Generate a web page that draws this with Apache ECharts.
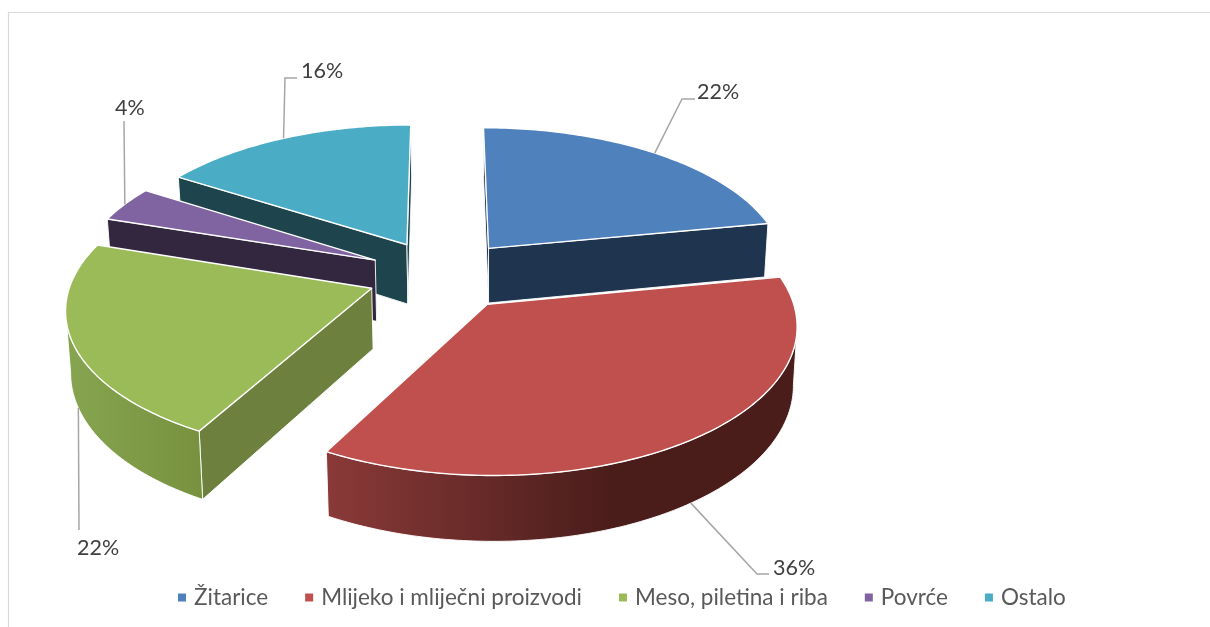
<!DOCTYPE html>
<html><head><meta charset="utf-8">
<style>html,body{margin:0;padding:0;background:#fff}#c{width:1210px;height:627px}</style>
<script src="https://cdn.jsdelivr.net/npm/echarts@6/dist/echarts.min.js"></script>
</head><body><div id="c"></div>
<script>
const categories = ['Žitarice','Mlijeko i mliječni proizvodi','Meso, piletina i riba','Povrće','Ostalo'];
const shares = [22,36,22,4,16];
const topColors = ['#4f81bd','#c0504d','#9bbb59','#8064a2','#4bacc6'];
const wallColors = ['#1f344f','#5a2321','#6e803d','#33263f','#1e454e'];
const rimLeft = ['#1f344f','#8a3a38','#87a551','#4d3c62','#1e454e'];
const rimRight = ['#1f344f','#4a1d1b','#77913f','#33263f','#1e454e'];
const wallDepths = [56,56,60,62,61];
// paint order back to front
const paintOrder = [4,3,0,2,1];
// 3D view parameters
const view = {cx:442, cy:275, R:299, k:141.8, p:0.1245, explode:0.25, vanishX:489, tilt:0.012};
// leader-line elbows and label anchors (layout only)
const leaders = [
  {pts:[[682,99],[695,99]], text:[697,92], front:false},
  {pts:[[757,574],[769,574]], text:[773,568], front:true},
  {pts:[[79,530]], text:[77,548], front:true},
  {pts:[[124,121]], text:[115,108], front:false},
  {pts:[[285,78],[297,78]], text:[301,71], front:false}
];
const total = shares.reduce((a,b)=>a+b,0);
const project = (X,Z,depth) => {
  const s = 1/(1 - view.p*Z);
  const x = view.cx + view.R*X*s, y = view.cy + view.k*Z*s;
  return depth ? [x + (view.vanishX-x)*view.tilt, y + depth*s] : [x,y];
};
function sliceAngles(i){
  let a = 0;
  for(let j=0;j<i;j++) a += shares[j]/total*2*Math.PI;
  return [a, a + shares[i]/total*2*Math.PI];
}
function renderSlice(i){
  const [a0,a1] = sliceAngles(i);
  const mid=(a0+a1)/2, ox=view.explode*Math.sin(mid), oz=-view.explode*Math.cos(mid);
  const pt=(t,r,down)=>project(ox+r*Math.sin(t), oz-r*Math.cos(t), down?wallDepths[i]:0);
  const n=Math.max(8,Math.round((a1-a0)*60));
  const rimT=[]; for(let j=0;j<=n;j++) rimT.push(a0+(a1-a0)*j/n);
  const children=[];
  const quad=(t1,r1,t2,r2,fill)=>{
    children.push({type:'polygon',shape:{points:[pt(t1,r1,false),pt(t2,r2,false),pt(t2,r2,true),pt(t1,r1,true)]},
      style:{fill,stroke:'rgba(255,255,255,0.9)',lineWidth:1,lineJoin:'round'}});
  };
  if(pt(a0,1)[0]<pt(a0,0)[0]) quad(a0,0,a0,1,wallColors[i]);
  if(pt(a1,0)[0]<pt(a1,1)[0]) quad(a1,1,a1,0,wallColors[i]);
  // curved rim: only the stretch whose screen x decreases along the sweep
  const vis=rimT.filter((t,j)=>{
    const nx=j<n?rimT[j+1]:t, pv=j>0?rimT[j-1]:t;
    return pt(nx,1)[0]<pt(t,1)[0] || pt(t,1)[0]<pt(pv,1)[0];
  });
  if(vis.length>1){
    const up=vis.map(t=>pt(t,1,false)), dn=vis.map(t=>pt(t,1,true)).reverse();
    children.push({type:'polygon',shape:{points:up.concat(dn)},
      style:{fill:new echarts.graphic.LinearGradient(0,0,1,0,[
        {offset:0,color:rimLeft[i]},
        {offset:i===1?0.6:1,color:rimRight[i]},
        {offset:1,color:rimRight[i]}]),
        stroke:'rgba(255,255,255,0.9)',lineWidth:1}});
  }
  const top=[pt(a0,0)].concat(rimT.map(t=>pt(t,1)));
  children.push({type:'polygon',shape:{points:top},
    style:{fill:topColors[i],stroke:'#ffffff',lineWidth:1.4,lineJoin:'round'}});
  const L=leaders[i];
  const line=[pt(mid,1,L.front)].concat(L.pts);
  children.push({type:'polyline',shape:{points:line},style:{fill:null,stroke:'#a6a6a6',lineWidth:1.5}});
  children.push({type:'text',x:L.text[0],y:L.text[1],style:{text:shares[i]+'%',fill:'#404040',
    font:'21.5px Lato',textAlign:'left',textVerticalAlign:'middle'}});
  return {type:'group',children};
}
const chart=echarts.init(document.getElementById('c'),null,{renderer:'canvas'});
chart.setOption({
  animation:false,
  backgroundColor:'#ffffff',
  color:topColors,
  graphic:[{type:'rect',shape:{x:8.5,y:12.5,width:1300,height:700},z:-10,
    style:{fill:'none',stroke:'#d9d9d9',lineWidth:1.2}}],
  legend:{data:categories,left:173,top:581,orient:'horizontal',icon:'rect',itemWidth:8,itemHeight:8,itemGap:37,
    textStyle:{fontFamily:'Lato',fontSize:22.5,color:'#595959',padding:[0,0,0,3]}},
  series:paintOrder.map(i=>({
    type:'custom',name:categories[i],coordinateSystem:'none',silent:true,
    itemStyle:{color:topColors[i]},
    data:[[shares[i]]],
    renderItem:()=>renderSlice(i)
  }))
});
</script></body></html>
